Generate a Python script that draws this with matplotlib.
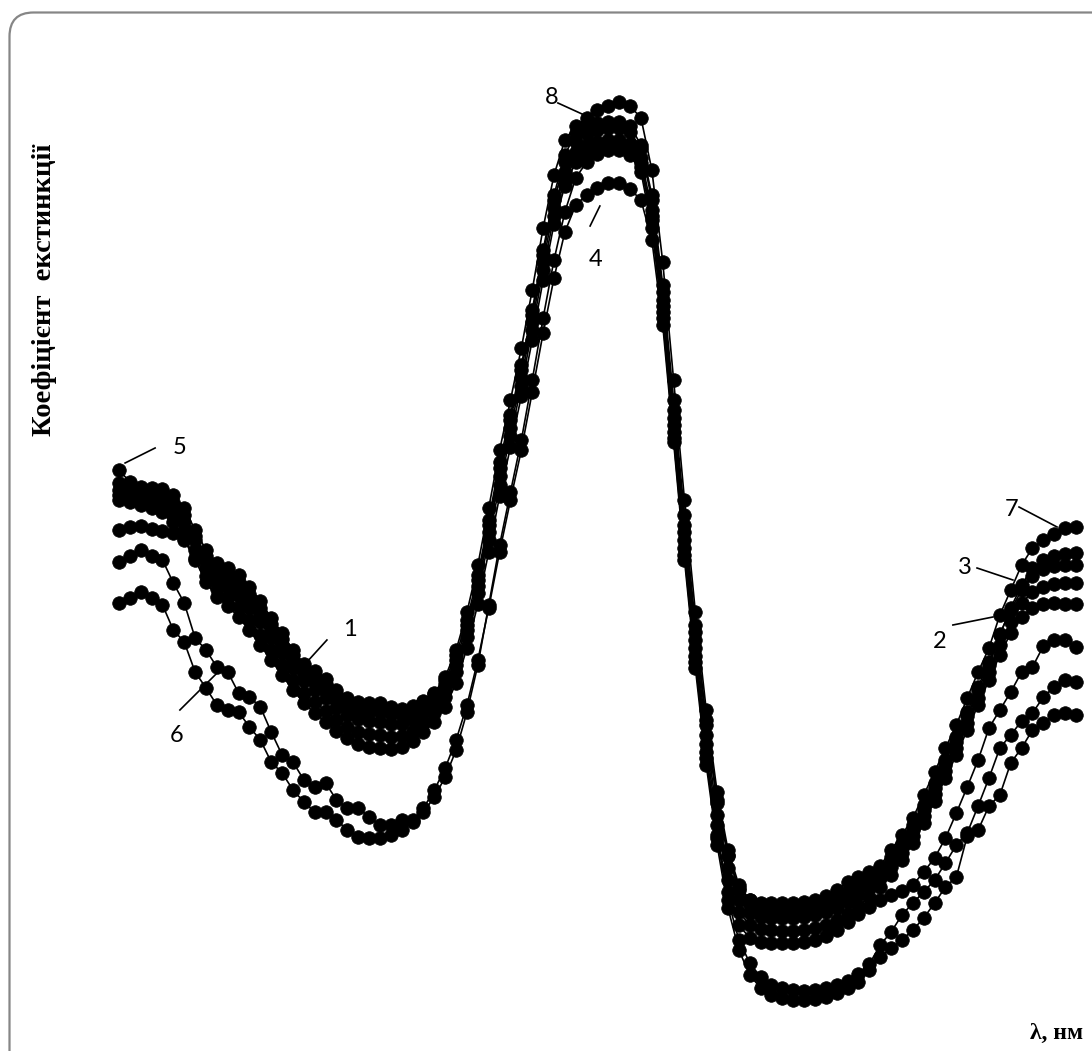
"""Extinction coefficient spectra, curves 1-8 (dotted black lines)."""
import matplotlib
matplotlib.use("Agg")
import matplotlib.pyplot as plt
import numpy as np
from matplotlib.patches import FancyBboxPatch
from matplotlib.transforms import IdentityTransform

# wavelength grid, nm
WAVELENGTH = np.arange(400, 845, 5)

# extinction coefficient, arbitrary units
CURVE_1 = [520, 523, 524, 521, 519, 517, 510, 490, 468, 453, 444, 433, 420, 405, 390, 375, 360, 347, 337, 328,
           319, 312, 306, 303, 302, 301, 303, 309, 318, 328, 343, 367, 402, 446, 498, 554, 603, 654, 710, 770,
           826, 864, 888, 896, 900, 902, 902, 898, 883, 830, 738, 618, 502, 394, 298, 215, 158, 125, 112, 108,
           107, 107, 107, 108, 110, 114, 120, 128, 136, 143, 150, 155, 159, 165, 178, 192, 212, 237, 263, 290,
           322, 340, 358, 378, 383, 404, 410, 410, 403]
CURVE_2 = [550, 548, 545, 542, 538, 528, 512, 492, 474, 461, 453, 443, 430, 415, 400, 385, 370, 357, 348, 339,
           330, 323, 318, 316, 315, 313, 314, 319, 327, 337, 353, 378, 413, 457, 510, 565, 614, 664, 720, 780,
           834, 870, 892, 900, 903, 905, 905, 901, 887, 834, 744, 625, 510, 402, 306, 225, 170, 138, 125, 121,
           120, 119, 119, 120, 122, 125, 130, 136, 144, 153, 163, 175, 190, 207, 227, 249, 272, 295, 320, 345,
           370, 395, 417, 433, 442, 446, 447, 446, 446]
CURVE_3 = [555, 551, 547, 545, 542, 534, 520, 500, 482, 470, 463, 454, 442, 428, 412, 397, 382, 369, 360, 352,
           342, 335, 331, 329, 328, 326, 326, 330, 337, 345, 360, 385, 420, 464, 518, 574, 622, 672, 728, 788,
           842, 878, 898, 905, 908, 910, 910, 906, 892, 840, 750, 632, 518, 410, 315, 235, 182, 150, 137, 133,
           132, 132, 132, 133, 135, 138, 142, 148, 155, 163, 172, 183, 197, 214, 234, 256, 279, 302, 327, 352,
           378, 405, 428, 447, 458, 463, 466, 467, 467]
CURVE_4 = [447, 452, 458, 452, 445, 420, 408, 378, 362, 345, 340, 338, 323, 310, 288, 277, 260, 248, 238, 238,
           230, 220, 213, 212, 212, 215, 220, 228, 242, 260, 282, 310, 345, 390, 442, 498, 550, 600, 658, 717,
           772, 818, 845, 855, 862, 867, 867, 861, 850, 810, 725, 608, 490, 382, 285, 205, 142, 100, 75, 62,
           55, 52, 50, 50, 51, 53, 57, 62, 68, 80, 93, 102, 110, 120, 132, 147, 163, 173, 214, 220,
           244, 255, 287, 302, 320, 327, 335, 337, 335]
CURVE_5 = [580, 568, 563, 562, 561, 555, 542, 520, 500, 487, 482, 475, 463, 449, 432, 417, 400, 386, 379, 371,
           360, 352, 348, 347, 347, 343, 341, 344, 349, 356, 370, 395, 430, 475, 530, 588, 635, 685, 740, 800,
           855, 895, 917, 924, 927, 928, 928, 924, 905, 855, 765, 650, 535, 425, 330, 250, 195, 160, 147, 143,
           141, 140, 140, 141, 143, 146, 150, 155, 162, 170, 178, 188, 202, 220, 240, 262, 285, 308, 334, 360,
           385, 415, 442, 465, 482, 490, 494, 496, 497]
CURVE_6 = [488, 494, 500, 494, 490, 467, 447, 412, 400, 383, 378, 357, 353, 343, 318, 295, 288, 270, 263, 267,
           250, 242, 242, 233, 225, 225, 230, 230, 238, 253, 273, 300, 338, 385, 445, 505, 558, 610, 670, 732,
           790, 838, 872, 888, 896, 900, 900, 895, 878, 822, 732, 612, 495, 388, 292, 212, 150, 110, 87, 73,
           65, 62, 60, 59, 60, 62, 65, 69, 76, 86, 105, 118, 135, 147, 158, 170, 187, 205, 217, 244,
           272, 302, 315, 329, 337, 353, 363, 370, 368]
CURVE_7 = [560, 554, 550, 550, 547, 540, 528, 510, 490, 477, 470, 462, 450, 436, 420, 405, 390, 377, 369, 360,
           350, 343, 339, 338, 338, 336, 335, 338, 344, 352, 366, 390, 425, 470, 525, 582, 630, 680, 735, 795,
           850, 888, 908, 916, 920, 922, 922, 918, 902, 850, 758, 640, 525, 418, 325, 247, 194, 162, 150, 147,
           147, 147, 147, 148, 150, 154, 160, 168, 173, 178, 184, 200, 215, 232, 255, 278, 302, 325, 352, 378,
           402, 435, 460, 485, 502, 510, 516, 522, 523]
CURVE_8 = [567, 560, 556, 555, 553, 548, 535, 514, 494, 481, 475, 468, 456, 442, 426, 411, 395, 382, 374, 366,
           356, 349, 345, 344, 343, 340, 339, 342, 348, 357, 373, 400, 438, 485, 542, 600, 650, 702, 760, 822,
           875, 910, 924, 932, 940, 944, 948, 944, 932, 880, 788, 670, 550, 438, 340, 258, 200, 165, 150, 146,
           145, 145, 145, 146, 147, 150, 153, 158, 165, 173, 182, 193, 207, 225, 245, 267, 290, 313, 338, 363,
           388, 416, 440, 460, 474, 481, 484, 485, 485]

CURVES = [CURVE_1, CURVE_2, CURVE_3, CURVE_4, CURVE_5, CURVE_6, CURVE_7, CURVE_8]
CURVE_NAMES = ["1", "2", "3", "4", "5", "6", "7", "8"]

# label text position, leader start, leader end (wavelength, value)
LABEL_POS = {
    "1": ((506.2, 420), (495.6, 410), (486.4, 388)),
    "2": ((777.5, 408), (783.4, 425), (801.8, 433)),
    "3": ((789.0, 483), (794.5, 482), (811.0, 470)),
    "4": ((618.9, 790), (616.6, 824), (621.1, 844)),
    "5": ((428.0, 603), (416.6, 602), (402.8, 587)),
    "6": ((426.7, 315), (428.0, 340), (445.1, 377)),
    "7": ((810.6, 540), (813.8, 543), (831.3, 523)),
    "8": ((599.1, 952), (601.8, 947), (612.9, 936)),
}

W, H = 1092, 1051
fig = plt.figure(figsize=(W / 100, H / 100), dpi=100)
ax = fig.add_axes([0, 0, 1, 1])
ax.set_xlim(345.29, 847.36)
ax.set_ylim(-1, 1050)
ax.axis("off")

for vals in CURVES:
    ax.plot(WAVELENGTH, vals, color="black", lw=1.2, marker="o", ms=9.8,
            mec="black", mew=0.5, zorder=2)

for name in CURVE_NAMES:
    (tx, ty), (x1, y1), (x2, y2) = LABEL_POS[name]
    ax.text(tx, ty, name, fontsize=17, family="Lato", ha="center", va="center", zorder=3)
    ax.plot([x1, x2], [y1, y2], color="black", lw=1.2, zorder=3)

# rounded frame, open at right and bottom
frame = FancyBboxPatch((9.5, -80), 1250, H - 12.5 + 80,
                       boxstyle="round,pad=0,rounding_size=24",
                       transform=IdentityTransform(), fill=False,
                       edgecolor="#868686", lw=1.6)
fig.add_artist(frame)

fig.text(45 / W, 1 - 290 / H, "Коефіцієнт  екстинкції", rotation=90,
         fontsize=20.5, fontweight="bold", family="Liberation Serif",
         ha="center", va="center")
fig.text(1083 / W, 1 - 1033 / H, "λ, нм", fontsize=17, fontweight="bold",
         family="Liberation Serif", ha="right", va="center")

fig.savefig("out.png", dpi=100)
